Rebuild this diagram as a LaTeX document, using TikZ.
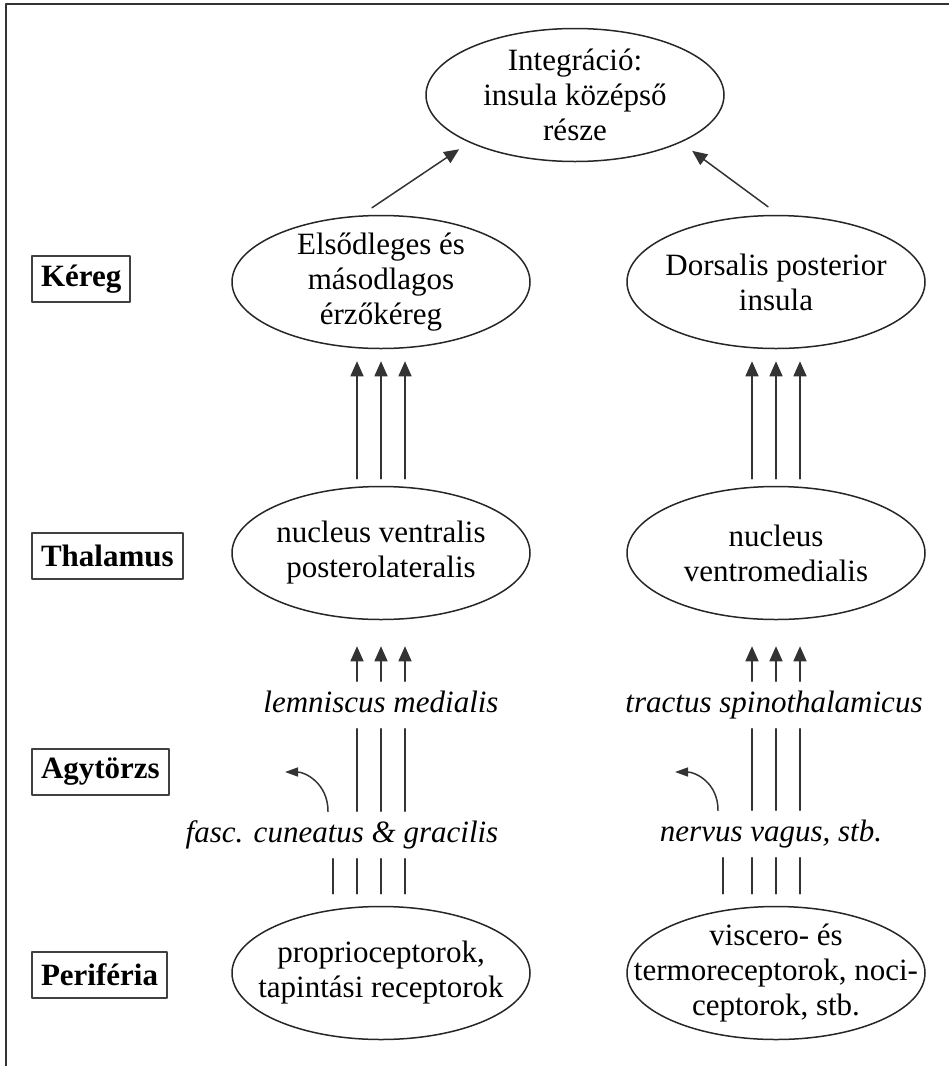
\documentclass[tikz,border=0pt]{standalone}
\usepackage{fontspec}
\setmainfont{Liberation Serif}
\usetikzlibrary{arrows.meta,shapes.geometric}
\newcommand{\diafont}{\fontsize{31}{35}\selectfont}
\tikzset{
	oval/.style={draw=black!85,line width=1.5pt,ellipse,minimum width=298pt,minimum height=133pt,inner sep=0pt},
	inoval/.style={align=center,anchor=center},
	tier/.style={draw=black!75,line width=2pt,font=\diafont\bfseries,anchor=west,minimum height=46pt,inner xsep=9pt,inner ysep=0pt},
	tractname/.style={font=\diafont\itshape,text height=21pt,text depth=7pt,inner xsep=0pt,inner ysep=9.5pt},
	fibre/.style={line width=1.5pt,draw=black!80},
	fibrearr/.style={fibre,-{Triangle[length=15pt,width=13pt]}},
	sidearr/.style={fibre,-{Triangle[length=13pt,width=9pt]}},
}
\begin{document}
\begin{tikzpicture}[x=1pt,y=-1pt,line cap=round,line join=round,font=\diafont]
		\useasboundingbox (0,0) rectangle (949,1066);
		%frame
		\draw [line width=2pt,black!80] (6,1066) -- (6,4) -- (949,4);
		%%%%%%%%%%%%%%% L E V E L S %%%%%%%%%%%%%%%%
		\node [tier] (kereg) at (31,279) {Kéreg};
		\node [tier] (thal) at (31,556) {Thalamus};
		\node [tier] (agy) at (31,772) {Agytörzs};
		\node [tier] (perif) at (31,975) {Periféria};
		%%%%%%%%%%%%%%% O V A L S %%%%%%%%%%%%%%%%
		%integration
		\node [oval,label={[inoval]center:{Integráció:\\insula középső\\része}}] (integ) at (575,95) {};
		%cortex
		\node [oval,label={[inoval]center:{Elsődleges és\\másodlagos\\érzőkéreg}}] (sek) at (381,282) {};
		\node [oval,label={[inoval]center:{Dorsalis posterior\\insula}}] (dpi) at (776,282) {};
		%thalamus
		\node [oval,label={[inoval]center:{nucleus ventralis\\posterolateralis}}] (vpl) at (381,553) {};
		\node [oval,label={[inoval]center:{nucleus\\ventromedialis}}] (vm) at (776,553) {};
		%periphery
		\node [oval,label={[inoval]center:{proprioceptorok,\\tapintási receptorok}}] (prop) at (381,973) {};
		\node [oval,label={[inoval]center:{viscero- és\\termoreceptorok, noci-\\ceptorok, stb.}}] (visc) at (776,973) {};
		%%%%%%%%%%%%%%% T R A C T S %%%%%%%%%%%%%%%%
		\node [tractname] (lm) at (381,705) {lemniscus medialis};
		\node [tractname] (ts) at (774,705) {tractus spinothalamicus};
		\node [tractname] (fcg) at (342,835) {fasc. cuneatus \& gracilis};
		\node [tractname] (nv) at (771,834) {nervus vagus, stb.};
		%columns of the fibres
		\coordinate (l0) at (333,0);
		\coordinate (l1) at (357,0);
		\coordinate (l2) at (381,0);
		\coordinate (l3) at (405,0);
		\coordinate (r0) at (723,0);
		\coordinate (r1) at (752,0);
		\coordinate (r2) at (776,0);
		\coordinate (r3) at (800,0);
		%%%%%%%%%%%%%%% F I B R E S %%%%%%%%%%%%%%%%
		%thalamus -> cortex
		\foreach \s/\up/\dn in {l/sek/vpl,r/dpi/vm}
			\foreach \c in {1,2,3}
				\draw [fibrearr] ([yshift=7pt]\s\c |- \dn.north) -- ([yshift=-12pt]\s\c |- \up.south);
		%brainstem -> thalamus
		\foreach \s/\up/\dn in {l/vpl/lm,r/vm/ts}
			\foreach \c in {1,2,3}
				\draw [fibrearr] (\s\c |- \dn.north) -- ([yshift=-26pt]\s\c |- \up.south);
		%brainstem
		\foreach \s/\up/\dn in {l/lm/fcg,r/ts/nv}
			\foreach \c in {1,2,3}
				\draw [fibre] (\s\c |- \dn.north) -- (\s\c |- \up.south);
		%periphery -> brainstem
		\foreach \s/\up/\dn in {l/fcg/prop,r/nv/visc}
			\foreach \c in {0,...,3}
				\draw [fibre] ([yshift=12pt]\s\c |- \dn.north) -- (\s\c |- \up.south);
		%side branches
		\coordinate (lout) at (285,772);
		\coordinate (rout) at (675,772);
		\draw [sidearr] ([xshift=-5pt]l0 |- fcg.north) .. controls +(0,-28) and +(20,0) .. (lout);
		\draw [sidearr] ([xshift=-5pt]r0 |- nv.north) .. controls +(0,-28) and +(20,0) .. (rout);
		%cortex -> integration
		\draw [fibrearr,shorten >=12pt] ([xshift=-9pt,yshift=7pt]sek.north) -- (integ.south west);
		\draw [fibrearr,shorten >=14pt] ([xshift=-8pt,yshift=8pt]dpi.north) -- (integ.south east);
	\end{tikzpicture}
\end{document}
